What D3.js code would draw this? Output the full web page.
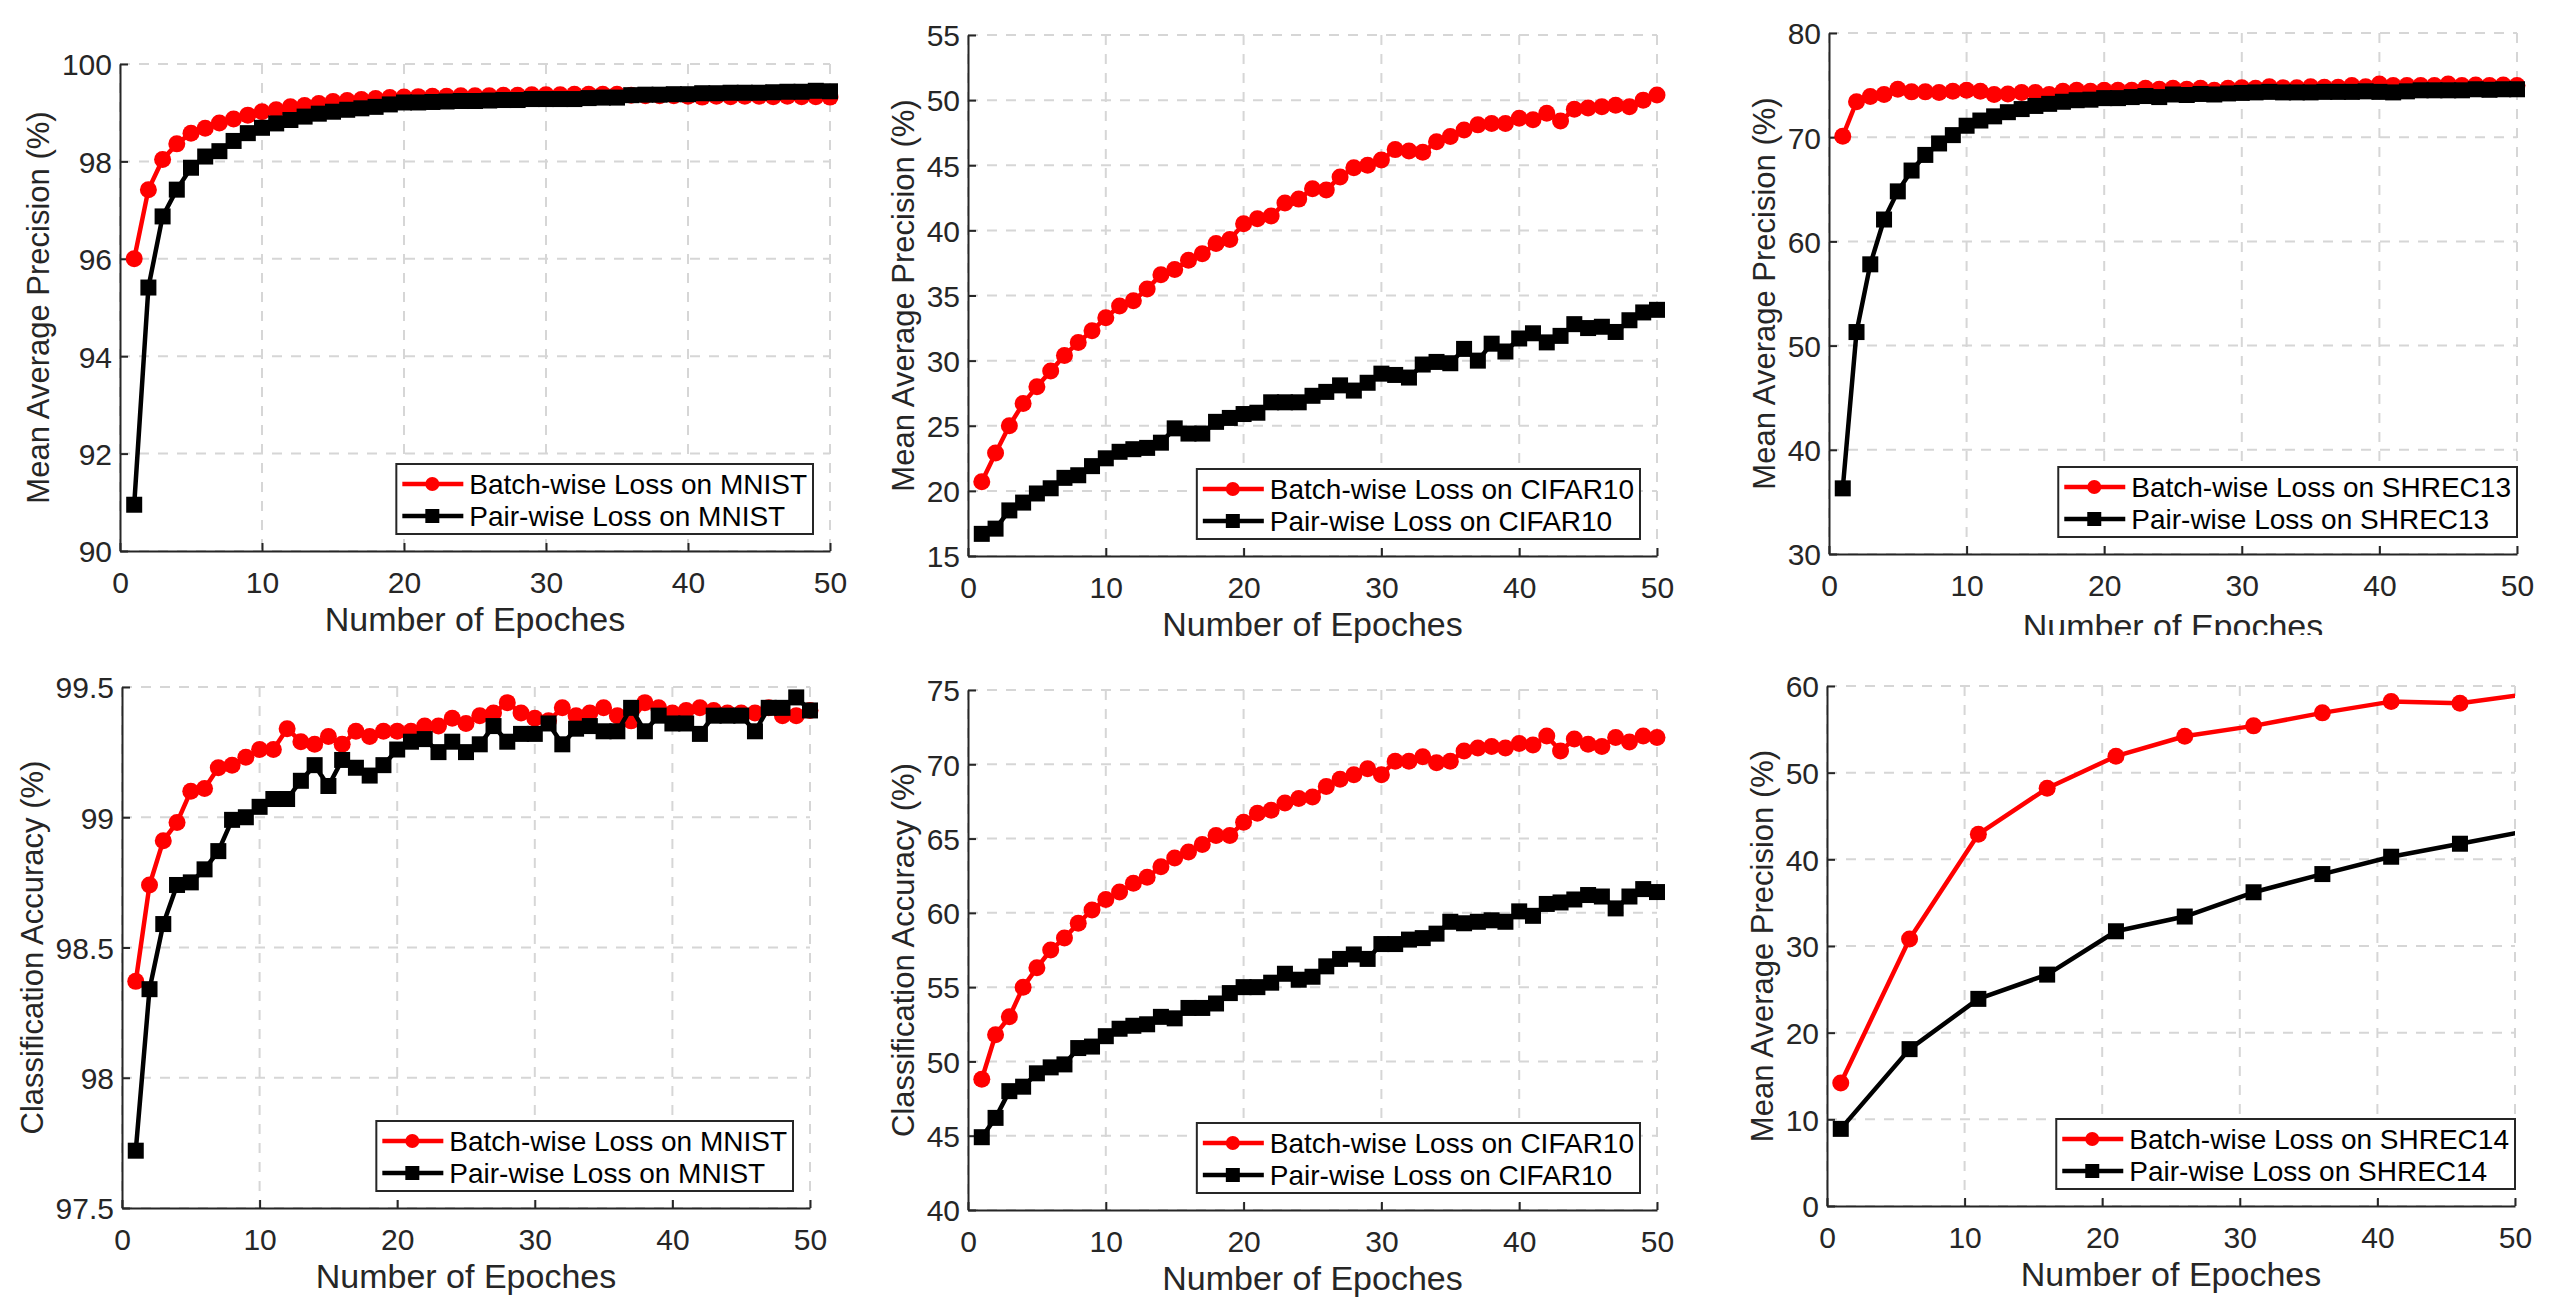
<!DOCTYPE html>
<html>
<head>
<meta charset="utf-8">
<script src="https://cdn.jsdelivr.net/npm/d3@7"></script>
<style>
	body{margin:0;background:#fff;}
	svg{display:block;font-family:"Liberation Sans",Arial,Helvetica,sans-serif;}
	.grid line{stroke:#d6d6d6;stroke-width:2;stroke-dasharray:10,9;}
	.axis path,.axis line{stroke:#262626;stroke-width:2;}
	.axis text{fill:#262626;font-size:30px;}
	.label{fill:#262626;}
	.legend text{fill:#000;font-size:28px;}
</style>
</head>
<body>
<svg id="fig" width="2549" height="1305"></svg>
<script>

var epochs = d3.range(1,51);
var shrec14Epochs = [1,6,11,16,21,26,31,36,41,46,51];
var xTicks = [0,10,20,30,40,50];

var mnistMapBatch = [96.0,97.42,98.04,98.36,98.58,98.68,98.79,98.87,98.95,99.02,
	99.06,99.12,99.15,99.19,99.23,99.25,99.27,99.29,99.31,99.32,
	99.33,99.34,99.34,99.35,99.35,99.35,99.36,99.36,99.37,99.37,
	99.37,99.38,99.38,99.38,99.38,99.36,99.35,99.35,99.35,99.34,
	99.32,99.34,99.33,99.34,99.34,99.33,99.34,99.33,99.33,99.32];
var mnistMapPair = [90.95,95.41,96.87,97.42,97.87,98.10,98.21,98.42,98.58,98.69,
	98.78,98.85,98.92,98.98,99.02,99.06,99.09,99.12,99.17,99.21,
	99.21,99.22,99.23,99.24,99.24,99.25,99.26,99.26,99.28,99.28,
	99.28,99.28,99.30,99.31,99.31,99.36,99.37,99.37,99.38,99.38,
	99.40,99.40,99.41,99.41,99.41,99.42,99.43,99.43,99.45,99.44];

var cifarMapBatch = [20.7,22.9,25.0,26.7,28.0,29.2,30.4,31.4,32.3,33.3,
	34.2,34.6,35.5,36.6,37.0,37.7,38.2,39.0,39.3,40.5,
	40.9,41.1,42.1,42.4,43.2,43.1,44.1,44.8,45.0,45.4,
	46.2,46.1,46.0,46.8,47.2,47.7,48.1,48.2,48.2,48.6,
	48.5,49.0,48.4,49.3,49.4,49.5,49.6,49.5,50.0,50.4];
var cifarMapPair = [16.7,17.1,18.5,19.1,19.8,20.2,21.0,21.2,21.9,22.5,
	23.0,23.2,23.3,23.7,24.8,24.4,24.4,25.3,25.6,25.9,
	26.0,26.8,26.8,26.8,27.3,27.6,28.1,27.7,28.3,29.0,
	28.9,28.7,29.7,29.9,29.8,30.9,30.0,31.3,30.7,31.7,
	32.1,31.4,31.9,32.8,32.5,32.6,32.2,33.1,33.7,33.9];

var shrec13Batch = [70.1,73.4,73.9,74.1,74.6,74.35,74.35,74.3,74.4,74.5,
	74.4,74.1,74.15,74.3,74.3,74.1,74.4,74.5,74.4,74.5,
	74.5,74.5,74.7,74.6,74.7,74.6,74.7,74.5,74.7,74.75,
	74.7,74.85,74.75,74.75,74.85,74.8,74.8,74.95,74.85,75.1,
	74.95,74.95,74.95,74.95,75.1,74.95,75.0,74.95,75.0,74.95];
var shrec13Pair = [36.3,51.3,57.8,62.1,64.8,66.8,68.3,69.4,70.2,71.1,
	71.6,72.0,72.4,72.7,73.0,73.2,73.4,73.55,73.6,73.75,
	73.75,73.85,73.95,73.85,74.1,74.05,74.15,74.1,74.2,74.25,
	74.3,74.35,74.3,74.3,74.3,74.35,74.35,74.35,74.4,74.35,
	74.3,74.4,74.5,74.5,74.5,74.5,74.6,74.55,74.6,74.6];

var mnistAccBatch = [98.37,98.74,98.91,98.98,99.10,99.11,99.19,99.20,99.23,99.26,
	99.26,99.34,99.29,99.28,99.31,99.28,99.33,99.31,99.33,99.33,
	99.33,99.35,99.35,99.38,99.36,99.39,99.40,99.44,99.40,99.38,
	99.37,99.42,99.39,99.40,99.42,99.39,99.37,99.44,99.42,99.40,
	99.41,99.42,99.41,99.40,99.40,99.40,99.42,99.39,99.39,99.41];
var mnistAccPair = [97.72,98.34,98.59,98.74,98.75,98.80,98.87,98.99,99.00,99.04,
	99.07,99.07,99.14,99.20,99.12,99.22,99.19,99.16,99.20,99.26,
	99.29,99.30,99.25,99.29,99.25,99.28,99.35,99.29,99.32,99.32,
	99.36,99.28,99.34,99.35,99.33,99.33,99.42,99.33,99.39,99.36,
	99.36,99.32,99.39,99.39,99.39,99.33,99.42,99.42,99.46,99.41];

var cifarAccBatch = [48.8,51.8,53.0,55.0,56.3,57.5,58.3,59.3,60.2,60.9,
	61.4,62.0,62.4,63.1,63.7,64.1,64.6,65.2,65.2,66.1,
	66.7,66.9,67.4,67.7,67.8,68.5,69.0,69.3,69.7,69.3,
	70.2,70.2,70.5,70.1,70.2,70.9,71.1,71.2,71.1,71.4,
	71.3,71.9,70.9,71.7,71.35,71.2,71.8,71.5,71.9,71.8];
var cifarAccPair = [44.9,46.2,48.0,48.3,49.2,49.6,49.8,50.9,51.0,51.7,
	52.2,52.4,52.5,53.0,52.9,53.6,53.6,53.9,54.6,55.0,
	55.0,55.3,55.9,55.5,55.7,56.4,56.9,57.2,56.9,57.9,
	57.9,58.2,58.3,58.6,59.4,59.3,59.4,59.5,59.4,60.1,
	59.8,60.6,60.7,60.9,61.2,61.1,60.3,61.1,61.6,61.4];

var shrec14Batch = [14.2,30.8,42.9,48.2,51.9,54.2,55.4,56.9,58.2,58.0,59.1];
var shrec14Pair = [8.9,18.1,23.9,26.7,31.7,33.4,36.2,38.3,40.3,41.8,43.3];

var mnistMapTicks = [90,92,94,96,98,100];
var cifarMapTicks = [15,20,25,30,35,40,45,50,55];
var shrec13Ticks = [30,40,50,60,70,80];
var mnistAccTicks = [97.5,98,98.5,99,99.5];
var cifarAccTicks = [40,45,50,55,60,65,70,75];
var shrec14Ticks = [0,10,20,30,40,50,60];

var mapLabel = 'Mean Average Precision (%)';
var accLabel = 'Classification Accuracy (%)';

var panels = [
	{box:[120,830,64,551], ticks:mnistMapTicks, ylabel:mapLabel, xs:epochs, red:mnistMapBatch, black:mnistMapPair, set:'MNIST', inset:17},
	{box:[968,1657,35,556], ticks:cifarMapTicks, ylabel:mapLabel, xs:epochs, red:cifarMapBatch, black:cifarMapPair, set:'CIFAR10', inset:17},
	{box:[1829,2517,33,554], ticks:shrec13Ticks, ylabel:mapLabel, xs:epochs, red:shrec13Batch, black:shrec13Pair, set:'SHREC13', inset:0, cut:635},
	{box:[122,810,687,1208], ticks:mnistAccTicks, ylabel:accLabel, xs:epochs, red:mnistAccBatch, black:mnistAccPair, set:'MNIST', inset:17},
	{box:[968,1657,690,1210], ticks:cifarAccTicks, ylabel:accLabel, xs:epochs, red:cifarAccBatch, black:cifarAccPair, set:'CIFAR10', inset:17},
	{box:[1827,2515,686,1206], ticks:shrec14Ticks, ylabel:mapLabel, xs:shrec14Epochs, red:shrec14Batch, black:shrec14Pair, set:'SHREC14', inset:0}
];

var svg = d3.select('#fig');
var defs = svg.append('defs');

function drawPanel(p,i){
	var x0 = p.box[0], x1 = p.box[1], y0 = p.box[2], y1 = p.box[3];
	var ticks = p.ticks;

	var xScale = d3.scaleLinear().domain([0,50]).range([x0,x1]);
	var yScale = d3.scaleLinear().domain([ticks[0],ticks[ticks.length-1]]).range([y1,y0]);

	var g = svg.append('g');

	//grid
	var grid = g.append('g').attr('class','grid');
	grid.selectAll('.gx').data(xTicks).enter().append('line')
		.attr('x1',d=>xScale(d)).attr('x2',d=>xScale(d))
		.attr('y1',y0).attr('y2',y1);
	grid.selectAll('.gy').data(ticks).enter().append('line')
		.attr('x1',x0).attr('x2',x1)
		.attr('y1',d=>yScale(d)).attr('y2',d=>yScale(d));

	//axes
	var yAxis = g.append('g')
		.attr('class','axis')
		.attr('transform','translate('+x0+',0)')
		.call(d3.axisLeft(yScale).tickValues(ticks).tickFormat(d3.format('')).tickSizeInner(-8).tickSizeOuter(0).tickPadding(8));
	var xAxis = g.append('g')
		.attr('class','axis')
		.attr('transform','translate(0,'+y1+')')
		.call(d3.axisBottom(xScale).tickValues(xTicks).tickFormat(d3.format('')).tickSizeInner(-8).tickSizeOuter(0).tickPadding(21));
	yAxis.selectAll('text').attr('dy','0.36em');

	var tickLeft = x0;
	yAxis.selectAll('text').each(function(){
		var b = this.getBBox();
		tickLeft = Math.min(tickLeft, x0 + b.x);
	});

	g.append('text')
		.attr('class','label')
		.attr('font-size',31)
		.attr('text-anchor','middle')
		.attr('transform','translate('+(tickLeft-13)+','+((y0+y1)/2)+') rotate(-90)')
		.text(p.ylabel);

	var xl = g.append('text')
		.attr('class','label')
		.attr('font-size',34)
		.attr('text-anchor','middle')
		.attr('x',(x0+x1)/2)
		.attr('y',y1+(p.cut ? 84 : 80))
		.text('Number of Epoches');
	if(p.cut){
		defs.append('clipPath').attr('id','cut'+i)
			.append('rect').attr('x',x0-200).attr('y',0).attr('width',x1-x0+400).attr('height',p.cut);
		xl.attr('clip-path','url(#cut'+i+')');
	}

	//lines
	defs.append('clipPath').attr('id','plot'+i)
		.append('rect').attr('x',x0).attr('y',y0).attr('width',x1-x0).attr('height',y1-y0);

	var lineGen = d3.line()
		.x(d=>xScale(d[0]))
		.y(d=>yScale(d[1]));

	var series = [
		{vals:p.red, color:'#ff0000', shape:'circle'},
		{vals:p.black, color:'#000000', shape:'square'}
	];

	series.forEach(function(s){
		var pts = p.xs.map((e,k)=>[e,s.vals[k]]);
		g.append('path')
			.datum(pts)
			.attr('clip-path','url(#plot'+i+')')
			.attr('fill','none')
			.attr('stroke',s.color)
			.attr('stroke-width',4.5)
			.attr('stroke-linejoin','round')
			.attr('d',lineGen);

		var shown = pts.filter(d=>d[0]<=50);
		if(s.shape=='circle'){
			g.selectAll(null).data(shown).enter().append('circle')
				.attr('cx',d=>xScale(d[0]))
				.attr('cy',d=>yScale(d[1]))
				.attr('r',8.5)
				.attr('fill',s.color);
		}else{
			g.selectAll(null).data(shown).enter().append('rect')
				.attr('x',d=>xScale(d[0])-8)
				.attr('y',d=>yScale(d[1])-8)
				.attr('width',16)
				.attr('height',16)
				.attr('fill',s.color);
		}
	});

	//legend
	var names = ['Batch-wise Loss on '+p.set, 'Pair-wise Loss on '+p.set];
	var leg = g.append('g').attr('class','legend');
	var box = leg.append('rect')
		.attr('fill','#fff')
		.attr('stroke','#262626')
		.attr('stroke-width',2);
	var texts = leg.selectAll('text').data(names).enter().append('text')
		.attr('x',73)
		.attr('y',(d,k)=>20+k*32)
		.attr('dy','0.36em')
		.text(d=>d);
	var tw = 0;
	texts.each(function(){ tw = Math.max(tw,this.getComputedTextLength()); });
	var bw = 73 + tw + 6, bh = 70;
	box.attr('width',bw).attr('height',bh);
	leg.attr('transform','translate('+(x1-p.inset-bw)+','+(y1-17-bh)+')');

	series.forEach(function(s,k){
		var cy = 20+k*32;
		leg.append('line')
			.attr('x1',6).attr('x2',67)
			.attr('y1',cy).attr('y2',cy)
			.attr('stroke',s.color)
			.attr('stroke-width',4.5);
		if(s.shape=='circle'){
			leg.append('circle').attr('cx',36).attr('cy',cy).attr('r',7).attr('fill',s.color);
		}else{
			leg.append('rect').attr('x',29).attr('y',cy-7).attr('width',14).attr('height',14).attr('fill',s.color);
		}
	});
}

panels.forEach(drawPanel);

</script>
</body>
</html>
